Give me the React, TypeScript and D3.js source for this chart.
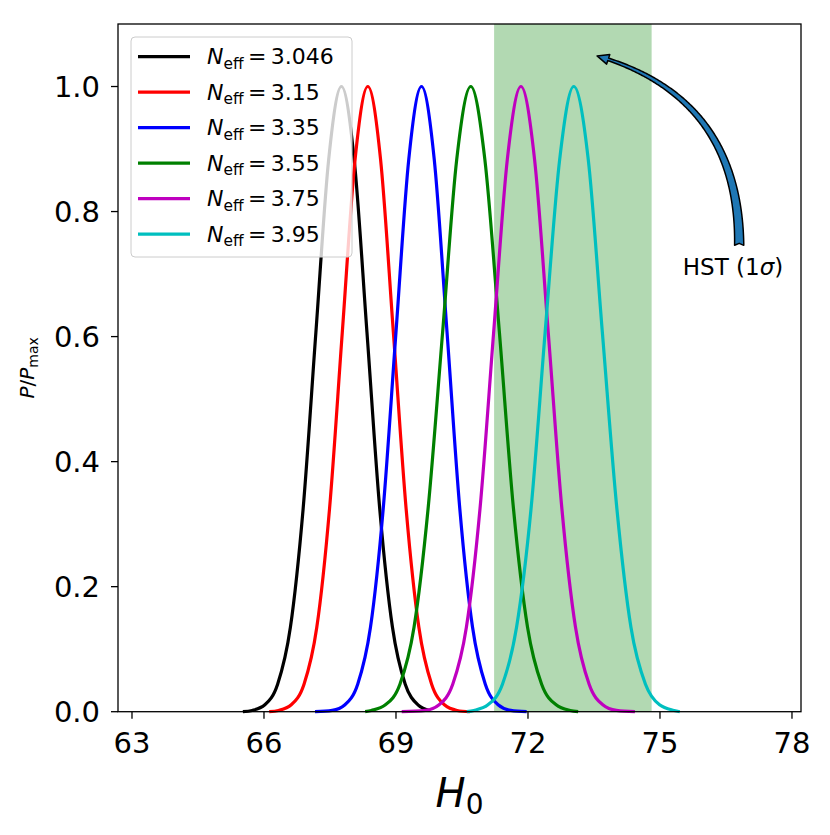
import React from "react";
import * as d3 from "d3";

// N_eff labels for the six runs
const nEffLabels = ["3.046", "3.15", "3.35", "3.55", "3.75", "3.95"];
const lineColors = ["#000000", "#ff0000", "#0000ff", "#008000", "#bf00bf", "#00bfbf"];

const h0Ticks = [63, 66, 69, 72, 75, 78];
const pTicks = [0, 0.2, 0.4, 0.6, 0.8, 1.0];

// HST 1 sigma band
const hstBand = [71.23, 74.81];
const hstLabel = "HST (1";
const arrowTail = [76.8, 0.746];
const arrowTip = [73.57, 1.049];

// [H0, P/Pmax]
const curve3046: [number, number][] = [
  [65.52, 0], [65.73, 0.002], [66.02, 0.011], [66.31, 0.044], [66.6, 0.135],
  [66.89, 0.325], [67.18, 0.607], [67.47, 0.883], [67.76, 1.0], [68.05, 0.883],
  [68.34, 0.607], [68.63, 0.325], [68.92, 0.135], [69.21, 0.044], [69.5, 0.011],
  [69.77, 0.002],
];
const curve315: [number, number][] = [
  [66.12, 0], [66.33, 0.002], [66.62, 0.011], [66.91, 0.044], [67.2, 0.135],
  [67.49, 0.325], [67.78, 0.607], [68.07, 0.883], [68.36, 1.0], [68.65, 0.883],
  [68.94, 0.607], [69.23, 0.325], [69.52, 0.135], [69.81, 0.044], [70.1, 0.011],
  [70.39, 0.002], [70.68, 0],
];
const curve335: [number, number][] = [
  [67.16, 0], [67.55, 0.002], [67.84, 0.011], [68.13, 0.044], [68.42, 0.135],
  [68.71, 0.325], [69.0, 0.607], [69.29, 0.883], [69.58, 1.0], [69.87, 0.883],
  [70.16, 0.607], [70.45, 0.325], [70.74, 0.135], [71.03, 0.044], [71.32, 0.011],
  [71.61, 0.002], [71.97, 0],
];
const curve355: [number, number][] = [
  [68.3, 0], [68.44, 0.002], [68.76, 0.011], [69.09, 0.044], [69.41, 0.135],
  [69.73, 0.325], [70.06, 0.607], [70.38, 0.883], [70.7, 1.0], [71.02, 0.883],
  [71.35, 0.607], [71.67, 0.325], [71.99, 0.135], [72.31, 0.044], [72.64, 0.011],
  [72.96, 0.002], [73.14, 0],
];
const curve375: [number, number][] = [
  [69.13, 0], [69.67, 0.002], [69.98, 0.011], [70.29, 0.044], [70.6, 0.135],
  [70.91, 0.325], [71.22, 0.607], [71.53, 0.883], [71.84, 1.0], [72.15, 0.883],
  [72.46, 0.607], [72.77, 0.325], [73.08, 0.135], [73.39, 0.044], [73.7, 0.011],
  [74.01, 0.002], [74.43, 0],
];
const curve395: [number, number][] = [
  [70.61, 0], [70.77, 0.002], [71.09, 0.011], [71.42, 0.044], [71.74, 0.135],
  [72.07, 0.325], [72.39, 0.607], [72.72, 0.883], [73.04, 1.0], [73.37, 0.883],
  [73.69, 0.607], [74.02, 0.325], [74.34, 0.135], [74.67, 0.044], [74.99, 0.011],
  [75.32, 0.002], [75.45, 0],
];
const curves = [curve3046, curve315, curve335, curve355, curve375, curve395];

const W = 830;
const H = 835;
const left = 118;
const right = 801;
const top = 24;
const bottom = 711.7;
const font = "DejaVu Sans, sans-serif";

const x = d3.scaleLinear().domain([62.682, 78.205]).range([left, right]);
const y = d3.scaleLinear().domain([0, 1.1]).range([bottom, top]);

const line = d3
  .line<[number, number]>()
  .x((d) => x(d[0]))
  .y((d) => y(d[1]))
  .curve(d3.curveMonotoneX);

// tapered "fancy" arrow along a quadratic arc (like arc3)
function fancyArrow(p0: number[], p2: number[], rad: number) {
  const [x1, y1] = p0;
  const [x2, y2] = p2;
  const mx = (x1 + x2) / 2;
  const my = (y1 + y2) / 2;
  const cx = mx - rad * (y2 - y1);
  const cy = my + rad * (x2 - x1);
  const n = 200;
  const pts: { x: number; y: number; tx: number; ty: number; s: number }[] = [];
  let s = 0;
  for (let i = 0; i <= n; i++) {
    const t = i / n;
    const px = (1 - t) * (1 - t) * x1 + 2 * (1 - t) * t * cx + t * t * x2;
    const py = (1 - t) * (1 - t) * y1 + 2 * (1 - t) * t * cy + t * t * y2;
    let dx = 2 * (1 - t) * (cx - x1) + 2 * t * (x2 - cx);
    let dy = 2 * (1 - t) * (cy - y1) + 2 * t * (y2 - cy);
    const len = Math.hypot(dx, dy);
    dx /= len;
    dy /= len;
    if (i > 0) s += Math.hypot(px - pts[i - 1].x, py - pts[i - 1].y);
    pts.push({ x: px, y: py, tx: dx, ty: dy, s });
  }
  const L = s;
  const headLen = 11;
  const headHalf = 5;
  const tailHalf = 4.6;
  const neckHalf = 1.3;
  const body = pts.filter((p) => p.s <= L - headLen);
  const lft: string[] = [];
  const rgt: string[] = [];
  body.forEach((p) => {
    const w = tailHalf + (neckHalf - tailHalf) * (p.s / (L - headLen));
    lft.push(`${p.x - p.ty * w},${p.y + p.tx * w}`);
    rgt.push(`${p.x + p.ty * w},${p.y - p.tx * w}`);
  });
  const nk = body[body.length - 1];
  const barbL = `${nk.x - nk.ty * headHalf},${nk.y + nk.tx * headHalf}`;
  const barbR = `${nk.x + nk.ty * headHalf},${nk.y - nk.tx * headHalf}`;
  const t0 = pts[0];
  const notch = `${t0.x + t0.tx * 2},${t0.y + t0.ty * 2}`;
  return (
    `M${notch}L${lft.join("L")}L${barbL}L${x2},${y2}L${barbR}L` +
    `${rgt.reverse().join("L")}Z`
  );
}

const Legend = () => {
  const lx = 131;
  const ly = 37;
  const rowH = 35.5;
  return (
    <g>
      <rect
        x={lx}
        y={ly}
        width={221}
        height={220}
        rx={4}
        fill="#ffffff"
        fillOpacity={0.8}
        stroke="#cccccc"
        strokeWidth={1}
      />
      {nEffLabels.map((lab, i) => {
        const cy = ly + 19.7 + i * rowH;
        return (
          <g key={lab}>
            <line x1={lx + 7} x2={lx + 59} y1={cy} y2={cy} stroke={lineColors[i]} strokeWidth={3.2} />
            <text x={lx + 76} y={cy + 7.5} fontSize={22} fontFamily={font} fill="#000">
              <tspan fontStyle="italic">N</tspan>
              <tspan fontSize={15.4} dy={4.5}>eff</tspan>
              <tspan dy={-4.5}>{`\u2009=\u2009${lab}`}</tspan>
            </text>
          </g>
        );
      })}
    </g>
  );
};

export default function App() {
  const tail = [x(arrowTail[0]), y(arrowTail[1])];
  const tip = [x(arrowTip[0]), y(arrowTip[1])];
  return (
    <svg
      width={W}
      height={H}
      style={{ position: "absolute", left: 0, top: 0, background: "#fff" }}
    >
      <rect x={0} y={0} width={W} height={H} fill="#fff" />
      <rect
        x={x(hstBand[0])}
        y={top}
        width={x(hstBand[1]) - x(hstBand[0])}
        height={bottom - top}
        fill="#008000"
        fillOpacity={0.3}
      />
      {curves.map((c, i) => (
        <path key={i} d={line(c) ?? ""} fill="none" stroke={lineColors[i]} strokeWidth={3.2} />
      ))}
      <rect
        x={left}
        y={top}
        width={right - left}
        height={bottom - top}
        fill="none"
        stroke="#000"
        strokeWidth={1.3}
      />
      {h0Ticks.map((t) => (
        <g key={t}>
          <line x1={x(t)} x2={x(t)} y1={bottom} y2={bottom + 7} stroke="#000" strokeWidth={1.3} />
          <text x={x(t)} y={bottom + 41} fontSize={29} textAnchor="middle" fontFamily={font}>
            {t}
          </text>
        </g>
      ))}
      {pTicks.map((t) => (
        <g key={t}>
          <line x1={left - 7} x2={left} y1={y(t)} y2={y(t)} stroke="#000" strokeWidth={1.3} />
          <text x={left - 18} y={y(t) + 10.5} fontSize={29} textAnchor="end" fontFamily={font}>
            {t.toFixed(1)}
          </text>
        </g>
      ))}
      <text x={(left + right) / 2} y={807} fontSize={40} textAnchor="middle" fontFamily={font}>
        <tspan fontStyle="italic">H</tspan>
        <tspan fontSize={28} dy={7}>0</tspan>
      </text>
      <text
        transform={`translate(34,${(top + bottom) / 2}) rotate(-90)`}
        fontSize={20}
        textAnchor="middle"
        fontFamily={font}
      >
        <tspan fontStyle="italic">P</tspan>
        <tspan>/</tspan>
        <tspan fontStyle="italic">P</tspan>
        <tspan fontSize={14} dy={3.5}>max</tspan>
      </text>
      <Legend />
      <path d={fancyArrow(tail, tip, 0.376)} fill="#1f77b4" stroke="#000" strokeWidth={1.5} strokeLinejoin="round" />
      <text x={733} y={275} fontSize={23} textAnchor="middle" fontFamily={font}>
        {hstLabel}
        <tspan fontStyle="italic">σ</tspan>)
      </text>
    </svg>
  );
}
